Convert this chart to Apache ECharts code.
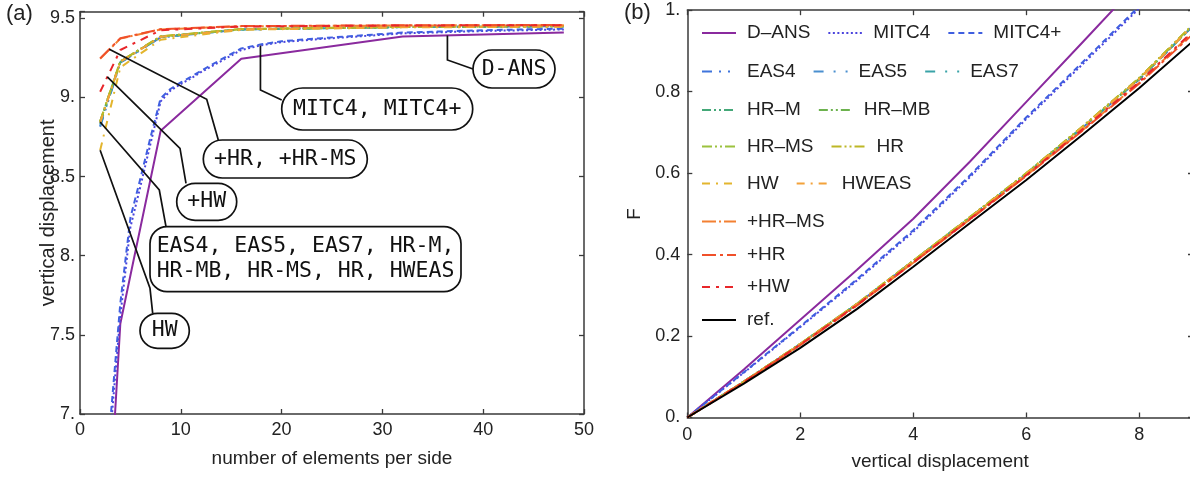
<!DOCTYPE html>
<html>
<head>
<meta charset="utf-8">
<script src="https://cdn.jsdelivr.net/npm/echarts@6/dist/echarts.min.js"></script>
<style>
  html, body { margin: 0; padding: 0; background: #fff; }
  #chart { width: 1190px; height: 477px; }
</style>
</head>
<body>
<div id="chart"></div>
<script>
// ---------- (a) tip deflection vs. mesh density ----------
const nMesh = [2, 4, 8, 16, 32, 48];
const nMitc = [3, 4, 5, 6, 7, 8, 9, 10, 11, 12, 14, 16, 18, 20, 24, 32, 40, 48];

const convDAns   = [5.4, 7.57, 8.79, 9.245, 9.385, 9.41];
const convMitc4  = [6.87, 7.62, 8.18, 8.44, 8.71, 8.975, 9.045, 9.085, 9.12, 9.16, 9.23, 9.30, 9.33, 9.35, 9.37, 9.405, 9.42, 9.43];
const convMitc4p = [6.95, 7.70, 8.24, 8.49, 8.75, 8.995, 9.055, 9.095, 9.13, 9.168, 9.24, 9.31, 9.336, 9.355, 9.375, 9.41, 9.425, 9.435];
const convEas4   = [8.815, 9.220, 9.380, 9.430, 9.445, 9.450];
const convEas5   = [8.820, 9.220, 9.380, 9.430, 9.445, 9.450];
const convEas7   = [8.830, 9.224, 9.382, 9.430, 9.445, 9.450];
const convHrM    = [8.845, 9.226, 9.384, 9.430, 9.445, 9.450];
const convHrMb   = [8.845, 9.226, 9.384, 9.431, 9.445, 9.450];
const convHrMs   = [8.850, 9.228, 9.386, 9.432, 9.446, 9.451];
const convHr     = [8.850, 9.228, 9.386, 9.432, 9.446, 9.451];
const convHw     = [8.667, 9.190, 9.365, 9.428, 9.443, 9.447];
const convHwEas  = [8.840, 9.225, 9.383, 9.430, 9.445, 9.450];
const convPHrMs  = [9.245, 9.372, 9.430, 9.450, 9.455, 9.457];
const convPHr    = [9.247, 9.374, 9.432, 9.451, 9.456, 9.458];
const convPHw    = [9.036, 9.300, 9.425, 9.448, 9.455, 9.457];

// ---------- (b) load F vs. vertical displacement ----------
const disp = [0, 1, 2, 3, 4, 5, 6, 7, 8, 9];

const loadRef    = [0, 0.083, 0.171, 0.266, 0.370, 0.477, 0.583, 0.695, 0.809, 0.930];
const loadDAns   = [0, 0.118, 0.240, 0.362, 0.488, 0.628, 0.775, 0.922, 1.070, 1.220];
const loadMitc4  = [0, 0.110, 0.222, 0.336, 0.456, 0.590, 0.733, 0.868, 1.005, 1.150];
const loadMitc4p = [0, 0.111, 0.224, 0.339, 0.460, 0.594, 0.737, 0.873, 1.010, 1.155];
const loadEas4   = [0, 0.088, 0.180, 0.278, 0.384, 0.490, 0.598, 0.712, 0.830, 0.968];
const loadEas5   = [0, 0.088, 0.180, 0.278, 0.384, 0.490, 0.598, 0.712, 0.830, 0.968];
const loadEas7   = [0, 0.088, 0.180, 0.278, 0.384, 0.491, 0.599, 0.713, 0.831, 0.969];
const loadHrM    = [0, 0.088, 0.180, 0.278, 0.384, 0.491, 0.599, 0.713, 0.831, 0.969];
const loadHrMb   = [0, 0.088, 0.181, 0.279, 0.385, 0.491, 0.599, 0.714, 0.832, 0.970];
const loadHrMs   = [0, 0.088, 0.181, 0.279, 0.385, 0.492, 0.600, 0.715, 0.834, 0.972];
const loadHr     = [0, 0.088, 0.181, 0.279, 0.385, 0.492, 0.600, 0.715, 0.834, 0.972];
const loadHw     = [0, 0.088, 0.180, 0.278, 0.383, 0.490, 0.598, 0.713, 0.832, 0.970];
const loadHwEas  = [0, 0.088, 0.180, 0.278, 0.384, 0.490, 0.598, 0.713, 0.831, 0.969];
const loadPHrMs  = [0, 0.087, 0.178, 0.275, 0.380, 0.486, 0.594, 0.706, 0.822, 0.952];
const loadPHr    = [0, 0.087, 0.178, 0.275, 0.380, 0.486, 0.593, 0.705, 0.820, 0.948];
const loadPHw    = [0, 0.087, 0.179, 0.276, 0.381, 0.487, 0.595, 0.708, 0.824, 0.955];

// ---------- element names and their line styles ----------
const styles = {
  'D–ANS':  { color: '#8a2a9e', type: 'solid' },
  'MITC4':  { color: '#4b44dd', type: [2, 2.5] },
  'MITC4+': { color: '#3f5fe0', type: [6, 4] },
  'EAS4':   { color: '#3f74dc', type: [10, 7, 2, 7, 2, 7] },
  'EAS5':   { color: '#4a8fcf', type: [10, 10, 2, 10] },
  'EAS7':   { color: '#3aa3a8', type: [10, 10, 2, 10] },
  'HR–M':   { color: '#44a878', type: [9, 3, 2, 3, 2, 3] },
  'HR–MB':  { color: '#6cb24e', type: [9, 3, 2, 3, 2, 3] },
  'HR–MS':  { color: '#9cc23e', type: [10, 3, 2, 3, 2, 3] },
  'HR':     { color: '#bdb726', type: [10, 3, 2, 3, 2, 3] },
  'HW':     { color: '#e3b52e', type: [8, 6, 2, 6] },
  'HWEAS':  { color: '#f3a23a', type: [8, 6, 2, 6] },
  '+HR–MS': { color: '#f38032', type: [14, 3, 2, 3] },
  '+HR':    { color: '#f0502a', type: [14, 4, 3, 4] },
  '+HW':    { color: '#e8262a', type: [8, 6, 3, 6] },
  'ref.':   { color: '#000000', type: 'solid' }
};

const convergence = [
  ['D–ANS', nMesh, convDAns], ['MITC4', nMitc, convMitc4], ['MITC4+', nMitc, convMitc4p],
  ['EAS4', nMesh, convEas4], ['EAS5', nMesh, convEas5], ['EAS7', nMesh, convEas7],
  ['HR–M', nMesh, convHrM], ['HR–MB', nMesh, convHrMb], ['HR–MS', nMesh, convHrMs],
  ['HR', nMesh, convHr], ['HW', nMesh, convHw], ['HWEAS', nMesh, convHwEas],
  ['+HR–MS', nMesh, convPHrMs], ['+HR', nMesh, convPHr], ['+HW', nMesh, convPHw]
];
const loading = [
  ['D–ANS', loadDAns], ['MITC4', loadMitc4], ['MITC4+', loadMitc4p],
  ['EAS4', loadEas4], ['EAS5', loadEas5], ['EAS7', loadEas7],
  ['HR–M', loadHrM], ['HR–MB', loadHrMb], ['HR–MS', loadHrMs],
  ['HR', loadHr], ['HW', loadHw], ['HWEAS', loadHwEas],
  ['+HR–MS', loadPHrMs], ['+HR', loadPHr], ['+HW', loadPHw], ['ref.', loadRef]
];

const legendRows = [
  { names: ['D–ANS', 'MITC4', 'MITC4+'], cy: 33 },
  { names: ['EAS4', 'EAS5', 'EAS7'], cy: 71.5 },
  { names: ['HR–M', 'HR–MB'], cy: 110 },
  { names: ['HR–MS', 'HR'], cy: 146.5 },
  { names: ['HW', 'HWEAS'], cy: 183.5 },
  { names: ['+HR–MS'], cy: 221.5 },
  { names: ['+HR'], cy: 255 },
  { names: ['+HW'], cy: 287 },
  { names: ['ref.'], cy: 320 }
];

// ---------- helpers ----------
const SANS = '"Liberation Sans", Arial, sans-serif';
const MONO = '"DejaVu Sans Mono", monospace';
const FRAME = '#3a3a3a';
const onStep = (v, step) => Math.abs(v / step - Math.round(v / step)) < 1e-6;
const mathLabel = (step) => (v) => {
  if (!onStep(v, step)) return '';
  const r = Math.round(v * 1000) / 1000;
  const s = String(r);
  return s.indexOf('.') >= 0 ? s : s + '.';
};
const intLabel = (step) => (v) => (onStep(v, step) ? String(Math.round(v)) : '');

function frameAxis(extra) {
  return Object.assign({
    type: 'value',
    axisLine: { show: true, onZero: false, lineStyle: { color: FRAME, width: 1.5 } },
    axisTick: { show: true, inside: true, length: 5, lineStyle: { color: FRAME, width: 1.3 } },
    splitLine: { show: false },
    nameMoveOverlap: false,
    axisLabel: { show: false }
  }, extra);
}
const tickFont = { fontFamily: SANS, fontSize: 18, color: '#222' };
const nameFont = { fontFamily: SANS, fontSize: 19, color: '#222' };

const xA = { min: 0, max: 50, interval: 10 };
const yA = { min: 7, max: 9.542, interval: 0.5 };
const xB = { min: 0, max: 8.95, interval: 2 };
const yB = { min: 0, max: 1, interval: 0.2 };

const series = [];
convergence.forEach(([name, xs, ys]) => {
  series.push({
    type: 'line', name, xAxisIndex: 0, yAxisIndex: 0,
    data: xs.map((x, i) => [x, ys[i]]),
    symbol: 'none', showSymbol: false, clip: true, z: 3,
    lineStyle: { color: styles[name].color, type: styles[name].type, width: 2 },
    itemStyle: { color: styles[name].color }
  });
});
loading.forEach(([name, ys]) => {
  series.push({
    type: 'line', name, xAxisIndex: 2, yAxisIndex: 2,
    data: disp.map((x, i) => [x, ys[i]]),
    symbol: 'none', showSymbol: false, clip: true, z: 3,
    lineStyle: { color: styles[name].color, type: styles[name].type, width: 2 },
    itemStyle: { color: styles[name].color }
  });
});

// line-only legend keys: the marker part of each key is made transparent
const legends = legendRows.map((row) => ({
  data: row.names,
  orient: 'horizontal',
  left: 701, top: row.cy - 10,
  itemWidth: 34, itemHeight: 14, itemGap: 17,
  padding: 0, selectedMode: false,
  itemStyle: { opacity: 0, borderWidth: 0 },
  textStyle: { fontFamily: SANS, fontSize: 19, color: '#222', lineHeight: 20, padding: [0, 0, 0, 6] }
}));

const option = {
  animation: false,
  backgroundColor: '#ffffff',
  grid: [
    { left: 80, top: 11.7, width: 504, height: 402.3, containLabel: false, outerBoundsMode: 'none' },
    { left: 687.3, top: 10.2, right: -3, bottom: 59.5, containLabel: false, outerBoundsMode: 'none' }
  ],
  xAxis: [
    frameAxis(Object.assign({}, xA, {
      gridIndex: 0, position: 'bottom',
      axisLabel: Object.assign({ show: true, margin: 7, formatter: intLabel(10), showMinLabel: true, showMaxLabel: true }, tickFont),
      name: 'number of elements per side', nameLocation: 'middle', nameGap: 35, nameTextStyle: nameFont
    })),
    frameAxis(Object.assign({}, xA, { gridIndex: 0, position: 'top' })),
    frameAxis(Object.assign({}, xB, {
      gridIndex: 1, position: 'bottom',
      axisLabel: Object.assign({ show: true, margin: 9, formatter: intLabel(2), showMinLabel: true, showMaxLabel: true }, tickFont),
      name: 'vertical displacement', nameLocation: 'middle', nameGap: 35, nameTextStyle: nameFont
    })),
    frameAxis(Object.assign({}, xB, { gridIndex: 1, position: 'top' }))
  ],
  yAxis: [
    frameAxis(Object.assign({}, yA, {
      gridIndex: 0, position: 'left',
      axisLabel: Object.assign({ show: true, margin: 5, formatter: mathLabel(0.5), showMinLabel: true, showMaxLabel: true }, tickFont),
      name: 'vertical displacement', nameLocation: 'middle', nameGap: 22,
      nameTextStyle: Object.assign({}, nameFont, { fontSize: 20 })
    })),
    frameAxis(Object.assign({}, yA, { gridIndex: 0, position: 'right' })),
    frameAxis(Object.assign({}, yB, {
      gridIndex: 1, position: 'left',
      axisLabel: Object.assign({ show: true, margin: 7, formatter: mathLabel(0.2), showMinLabel: true, showMaxLabel: true }, tickFont),
      name: 'F', nameLocation: 'middle', nameGap: 43, nameTextStyle: nameFont
    })),
    frameAxis(Object.assign({}, yB, { gridIndex: 1, position: 'right' }))
  ],
  legend: legends,
  series: series
};

const chart = echarts.init(document.getElementById('chart'), null, { renderer: 'canvas' });
chart.setOption(option);

// ---------- call-out labels on panel (a) ----------
function valueAt(xs, ys, x) {
  for (let i = 0; i < xs.length - 1; i++) {
    if (x >= xs[i] && x <= xs[i + 1]) {
      const t = (x - xs[i]) / (xs[i + 1] - xs[i]);
      return ys[i] + t * (ys[i + 1] - ys[i]);
    }
  }
  return ys[ys.length - 1];
}
const toPx = (x, y) => chart.convertToPixel({ xAxisIndex: 0, yAxisIndex: 0 }, [x, y]);

const callouts = [
  { text: 'D-ANS', xs: nMesh, ys: convDAns, n: 36.45,
    route: (p) => [[p[0], 60], [473, 69]], box: [473, 50, 82, 38] },
  { text: 'MITC4, MITC4+', xs: nMitc, ys: convMitc4, n: 17.9,
    route: (p) => [[p[0], 90], [281.7, 100]], box: [281.7, 88, 191, 42] },
  { text: '+HR, +HR-MS', xs: nMesh, ys: convPHr, n: 2.91,
    route: () => [[206.7, 99.3], [218.3, 140]], box: [203.3, 140, 164, 38] },
  { text: '+HW', xs: nMesh, ys: convPHw, n: 2.71,
    route: () => [[180, 148.3], [186, 183.3]], box: [176.7, 183.3, 60, 37] },
  { text: 'EAS4, EAS5, EAS7, HR-M,\nHR-MB, HR-MS, HR, HWEAS', xs: nMesh, ys: convHrM, n: 2,
    route: () => [[159.3, 190], [166, 226.7]], box: [150, 226.7, 311, 65], r: 17 },
  { text: 'HW', xs: nMesh, ys: convHw, n: 2,
    route: () => [[150, 288.3], [152.7, 313.3]], box: [140, 313.3, 49.3, 35] }
];

const graphics = [
  { type: 'text', left: 6, top: 3, z: 60,
    style: { text: '(a)', font: '22px ' + SANS, fill: '#222' } },
  { type: 'text', left: 624, top: 2, z: 60,
    style: { text: '(b)', font: '22px ' + SANS, fill: '#222' } }
];
callouts.forEach((c) => {
  const anchor = toPx(c.n, valueAt(c.xs, c.ys, c.n));
  const pts = [anchor].concat(c.route(anchor));
  graphics.push({
    type: 'polyline', z: 50, silent: true,
    shape: { points: pts },
    style: { stroke: '#111', lineWidth: 1.7, fill: null }
  });
  const [bx, by, bw, bh] = c.box;
  graphics.push({
    type: 'rect', z: 51, silent: true,
    shape: { x: bx, y: by, width: bw, height: bh, r: c.r != null ? c.r : bh / 2 },
    style: { fill: '#ffffff', stroke: '#111', lineWidth: 1.7 }
  });
  graphics.push({
    type: 'text', z: 52, silent: true,
    x: bx + bw / 2, y: by + bh / 2,
    style: { text: c.text, font: '21.5px ' + MONO, fill: '#111',
             align: 'center', verticalAlign: 'middle', lineHeight: 25 }
  });
});
chart.setOption({ graphic: graphics });
</script>
</body>
</html>
